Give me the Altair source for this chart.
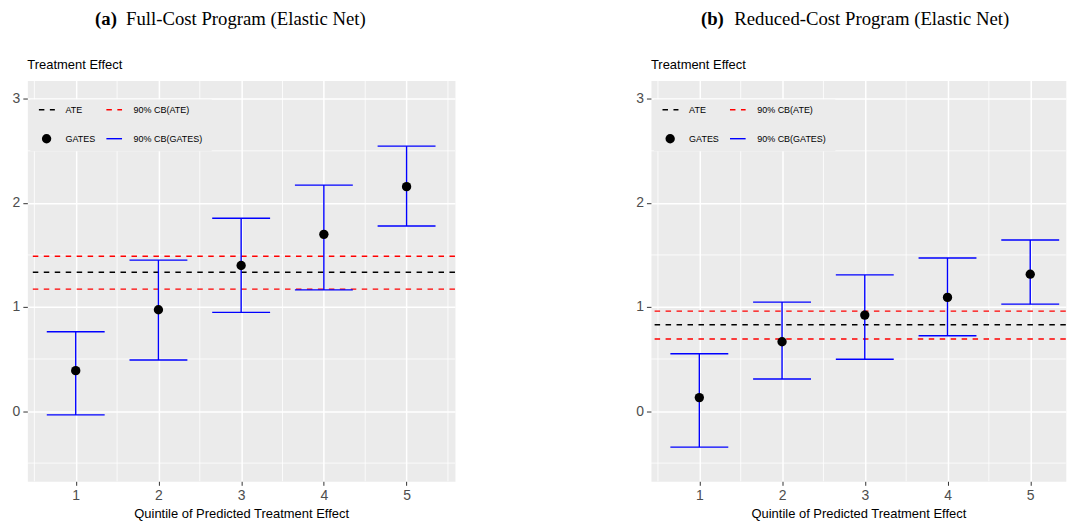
import altair as alt
import pandas as pd

# ---------------- data ----------------
quintile = [1, 2, 3, 4, 5]

full_gates = [0.388, 0.973, 1.398, 1.698, 2.156]
full_lo = [-0.037, 0.490, 0.948, 1.164, 1.778]
full_hi = [0.762, 1.450, 1.852, 2.171, 2.545]
full_ate = [1.334]
full_ate_cb = [1.171, 1.488]

red_gates = [0.129, 0.666, 0.922, 1.092, 1.315]
red_lo = [-0.347, 0.308, 0.497, 0.723, 1.027]
red_hi = [0.551, 1.047, 1.308, 1.471, 1.644]
red_ate = [0.829]
red_ate_cb = [0.692, 0.960]

x_ticks = [1, 2, 3, 4, 5]
x_minor = [0.5, 1.5, 2.5, 3.5, 4.5, 5.5]
y_ticks = [0, 1, 2, 3]
y_minor = [-0.5, 0.5, 1.5, 2.5]
y_domain = [-0.675, 3.175]

panel_tags = ["(a)", "(b)"]
panel_titles = ["Full-Cost Program (Elastic Net)", "Reduced-Cost Program (Elastic Net)"]
y_title = ["Treatment Effect"]
x_title = "Quintile of Predicted Treatment Effect"
legend_labels = ["ATE", "90% CB(ATE)", "GATES", "90% CB(GATES)"]

SANS = "Liberation Sans"
SERIF = "Liberation Serif"
BG = "#EBEBEB"
DASH = [5.5, 5.5]


def panel(gates, lo, hi, ate, ate_cb, tag, title, x_domain, width, tag_x, title_x):
    height = 402
    xs = alt.Scale(domain=x_domain, nice=False, zero=False)
    ys = alt.Scale(domain=y_domain, nice=False, zero=False)
    x_axis = alt.Axis(values=x_ticks, format="d", grid=True, gridColor="white", gridWidth=1.5,
                      domain=False, tickColor="#333333", tickSize=4, tickWidth=1,
                      labelFont=SANS, labelFontSize=14, labelColor="#4D4D4D", labelPadding=3,
                      title=x_title, titleFont=SANS, titleFontSize=13, titleFontWeight="normal",
                      titleColor="black", titlePadding=5)
    y_axis = alt.Axis(values=y_ticks, format="d", grid=True, gridColor="white", gridWidth=1.5,
                      domain=False, tickColor="#333333", tickSize=4.5, tickWidth=1,
                      labelFont=SANS, labelFontSize=14, labelColor="#4D4D4D", labelPadding=3,
                      title=None)

    def X(f):
        return alt.X(f, type="quantitative", scale=xs, axis=x_axis)

    def Y(f):
        return alt.Y(f, type="quantitative", scale=ys, axis=y_axis)

    df = pd.DataFrame({"q": quintile, "g": gates, "lo": lo, "hi": hi})

    minor_x = alt.Chart(pd.DataFrame({"v": x_minor})).transform_filter(
        f"datum.v <= {x_domain[1]}").mark_rule(color="white", strokeWidth=0.8).encode(x=X("v"))
    minor_y = alt.Chart(pd.DataFrame({"v": y_minor})).mark_rule(color="white", strokeWidth=0.8).encode(y=Y("v"))

    one = pd.DataFrame({"k": [0]})
    leg_bg = alt.Chart(one).mark_rect(color=BG).encode(
        x=alt.value(3), x2=alt.value(185), y=alt.value(19), y2=alt.value(71))

    ate_line = alt.Chart(pd.DataFrame({"v": ate})).mark_rule(
        color="black", strokeWidth=1.4, strokeDash=DASH).encode(y=Y("v"))
    cb_line = alt.Chart(pd.DataFrame({"v": ate_cb})).mark_rule(
        color="red", strokeWidth=1.4, strokeDash=DASH).encode(y=Y("v"))

    base = alt.Chart(df)
    stems = base.mark_rule(color="blue", strokeWidth=1.4).encode(x=X("q"), y=Y("lo"), y2="hi")
    caps_lo = base.transform_calculate(a="datum.q - 0.35", b="datum.q + 0.35").mark_rule(
        color="blue", strokeWidth=1.4).encode(x=X("a:Q"), x2="b:Q", y=Y("lo"))
    caps_hi = base.transform_calculate(a="datum.q - 0.35", b="datum.q + 0.35").mark_rule(
        color="blue", strokeWidth=1.4).encode(x=X("a:Q"), x2="b:Q", y=Y("hi"))
    pts = base.mark_circle(color="black", size=88, opacity=1).encode(x=X("q"), y=Y("g"))

    # legend inside the panel
    l1 = alt.Chart(one).mark_rule(color="black", strokeWidth=1.4, strokeDash=DASH).encode(
        x=alt.value(11.6), x2=alt.value(27.6), y=alt.value(29.3))
    l2 = alt.Chart(one).mark_rule(color="red", strokeWidth=1.4, strokeDash=DASH).encode(
        x=alt.value(79.3), x2=alt.value(95), y=alt.value(29.3))
    l3 = alt.Chart(one).mark_circle(color="black", size=88, opacity=1).encode(
        x=alt.value(19.3), y=alt.value(58.3))
    l4 = alt.Chart(one).mark_rule(color="blue", strokeWidth=1.4).encode(
        x=alt.value(79.3), x2=alt.value(95), y=alt.value(58.3))
    ltxt = []
    for lab, lx, ly in zip(legend_labels, [38.3, 106.6, 38.3, 106.6], [29.3, 29.3, 58.3, 58.3]):
        ltxt.append(alt.Chart(pd.DataFrame({"t": [lab]})).mark_text(
            font=SANS, fontSize=9, color="black", align="left", baseline="middle").encode(
            text="t:N", x=alt.value(lx), y=alt.value(ly)))

    ytitle = alt.Chart(pd.DataFrame({"t": y_title})).mark_text(
        font=SANS, fontSize=13, color="black", align="left", baseline="middle").encode(
        text="t:N", x=alt.value(0), y=alt.value(-16))
    t_tag = alt.Chart(pd.DataFrame({"t": [tag]})).mark_text(
        font=SERIF, fontSize=18.8, fontWeight="bold", color="black", align="left", baseline="middle").encode(
        text="t:N", x=alt.value(tag_x), y=alt.value(-62))
    t_main = alt.Chart(pd.DataFrame({"t": [title]})).mark_text(
        font=SERIF, fontSize=18.8, color="black", align="left", baseline="middle").encode(
        text="t:N", x=alt.value(title_x), y=alt.value(-62))

    return alt.layer(minor_x, minor_y, leg_bg, ate_line, cb_line, stems, caps_lo, caps_hi, pts,
                     l1, l2, l3, l4, *ltxt, ytitle, t_tag, t_main).properties(width=width, height=height)


left = panel(full_gates, full_lo, full_hi, full_ate, full_ate_cb, panel_tags[0], panel_titles[0],
             [0.415, 5.585], 429, 68, 99)
right = panel(red_gates, red_lo, red_hi, red_ate, red_ate_cb, panel_tags[1], panel_titles[1],
              [0.415, 5.43], 416.2, 50.2, 83.6)

chart = alt.hconcat(left, right, spacing=178.6).properties(
    padding={"left": 3.4, "top": 0, "right": 0, "bottom": 0},
    background="white",
).configure_view(fill=BG, stroke="transparent")

chart.save("out.html", embed_options={"renderer": "svg", "actions": False})
